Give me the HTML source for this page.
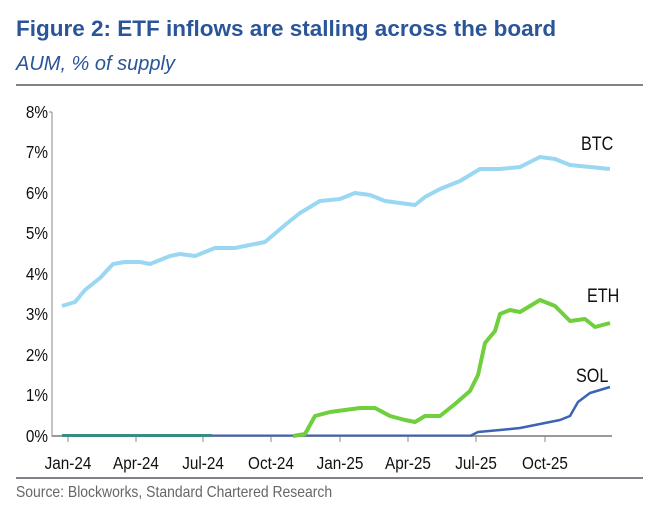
<!DOCTYPE html>
<html><head><meta charset="utf-8"><style>
body{margin:0;background:#fff;}
svg{display:block;font-family:"Liberation Sans",Arial,sans-serif;}
</style></head><body>
<svg width="659" height="524" viewBox="0 0 659 524">
<text x="16" y="36" font-size="22.5" font-weight="bold" fill="#2a5598">Figure 2: ETF inflows are stalling across the board</text>
<text x="16" y="70" font-size="20" font-style="italic" fill="#2a5598">AUM, % of supply</text>
<line x1="16" y1="85" x2="643" y2="85" stroke="#7f8389" stroke-width="2"/>
<g font-size="18" fill="#111" text-anchor="end">
<text x="0" y="118" transform="translate(48,0) scale(0.85,1)">8%</text>
<text x="0" y="158" transform="translate(48,0) scale(0.85,1)">7%</text>
<text x="0" y="199" transform="translate(48,0) scale(0.85,1)">6%</text>
<text x="0" y="239" transform="translate(48,0) scale(0.85,1)">5%</text>
<text x="0" y="280" transform="translate(48,0) scale(0.85,1)">4%</text>
<text x="0" y="320" transform="translate(48,0) scale(0.85,1)">3%</text>
<text x="0" y="361" transform="translate(48,0) scale(0.85,1)">2%</text>
<text x="0" y="401" transform="translate(48,0) scale(0.85,1)">1%</text>
<text x="0" y="442" transform="translate(48,0) scale(0.85,1)">0%</text>
</g>
<line x1="52" y1="112" x2="52" y2="437" stroke="#888" stroke-width="1"/>
<line x1="49" y1="112" x2="52" y2="112" stroke="#888"/>
<line x1="52" y1="436" x2="612" y2="436" stroke="#999" stroke-width="2"/>
<g stroke="#888">
<line x1="68" y1="436" x2="68" y2="442"/><line x1="136" y1="436" x2="136" y2="442"/><line x1="203" y1="436" x2="203" y2="442"/><line x1="271" y1="436" x2="271" y2="442"/><line x1="340" y1="436" x2="340" y2="442"/><line x1="408" y1="436" x2="408" y2="442"/><line x1="476" y1="436" x2="476" y2="442"/><line x1="545" y1="436" x2="545" y2="442"/>
</g>
<g font-size="18" fill="#111" text-anchor="middle">
<text x="0" y="469" transform="translate(68,0) scale(0.85,1)">Jan-24</text><text x="0" y="469" transform="translate(136,0) scale(0.85,1)">Apr-24</text><text x="0" y="469" transform="translate(203,0) scale(0.85,1)">Jul-24</text><text x="0" y="469" transform="translate(271,0) scale(0.85,1)">Oct-24</text><text x="0" y="469" transform="translate(340,0) scale(0.85,1)">Jan-25</text><text x="0" y="469" transform="translate(408,0) scale(0.85,1)">Apr-25</text><text x="0" y="469" transform="translate(476,0) scale(0.85,1)">Jul-25</text><text x="0" y="469" transform="translate(545,0) scale(0.85,1)">Oct-25</text>
</g>
<line x1="16" y1="478" x2="643" y2="478" stroke="#7f8389" stroke-width="2"/>
<text x="0" y="497" font-size="15.5" fill="#666" transform="translate(16,0) scale(0.9,1)">Source: Blockworks, Standard Chartered Research</text>
<line x1="62" y1="435.5" x2="470" y2="435.5" stroke="#3d63b5" stroke-width="2"/>
<line x1="62" y1="435.5" x2="212" y2="435.5" stroke="#3a8a86" stroke-width="3"/>
<polyline fill="none" stroke="#9ad7f3" stroke-width="4" stroke-linejoin="round" points="62,306 75,302 85,290 100,278 113,264 125,262 140,262 150,264 170,256 180,254 195,256 215,248 235,248 255,244 265,242 285,225 300,213 320,201 340,199 355,193 370,195 385,201 400,203 415,205 425,197 440,189 460,181 480,169 500,169 520,167 540,157 555,159 570,165 590,167 610,169"/>
<polyline fill="none" stroke="#6fcf3c" stroke-width="4" stroke-linejoin="round" points="293,436 305,434 315,416 330,412 345,410 360,408 375,408 390,416 405,420 415,422 425,416 440,416 455,404 470,391 478,375 485,343 495,331 500,314 510,310 520,312 530,306 540,300 555,306 570,321 585,319 595,327 610,323"/>
<polyline fill="none" stroke="#3d63b5" stroke-width="2.5" stroke-linejoin="round" points="470,436 478,432 500,430 520,428 540,424 560,420 570,416 578,402 590,393 610,387"/>
<g font-size="19" fill="#111">
<text x="0" y="150" transform="translate(581,0) scale(0.85,1)">BTC</text><text x="0" y="302" transform="translate(587,0) scale(0.85,1)">ETH</text><text x="0" y="382" transform="translate(576,0) scale(0.85,1)">SOL</text>
</g>
</svg>
</body></html>
